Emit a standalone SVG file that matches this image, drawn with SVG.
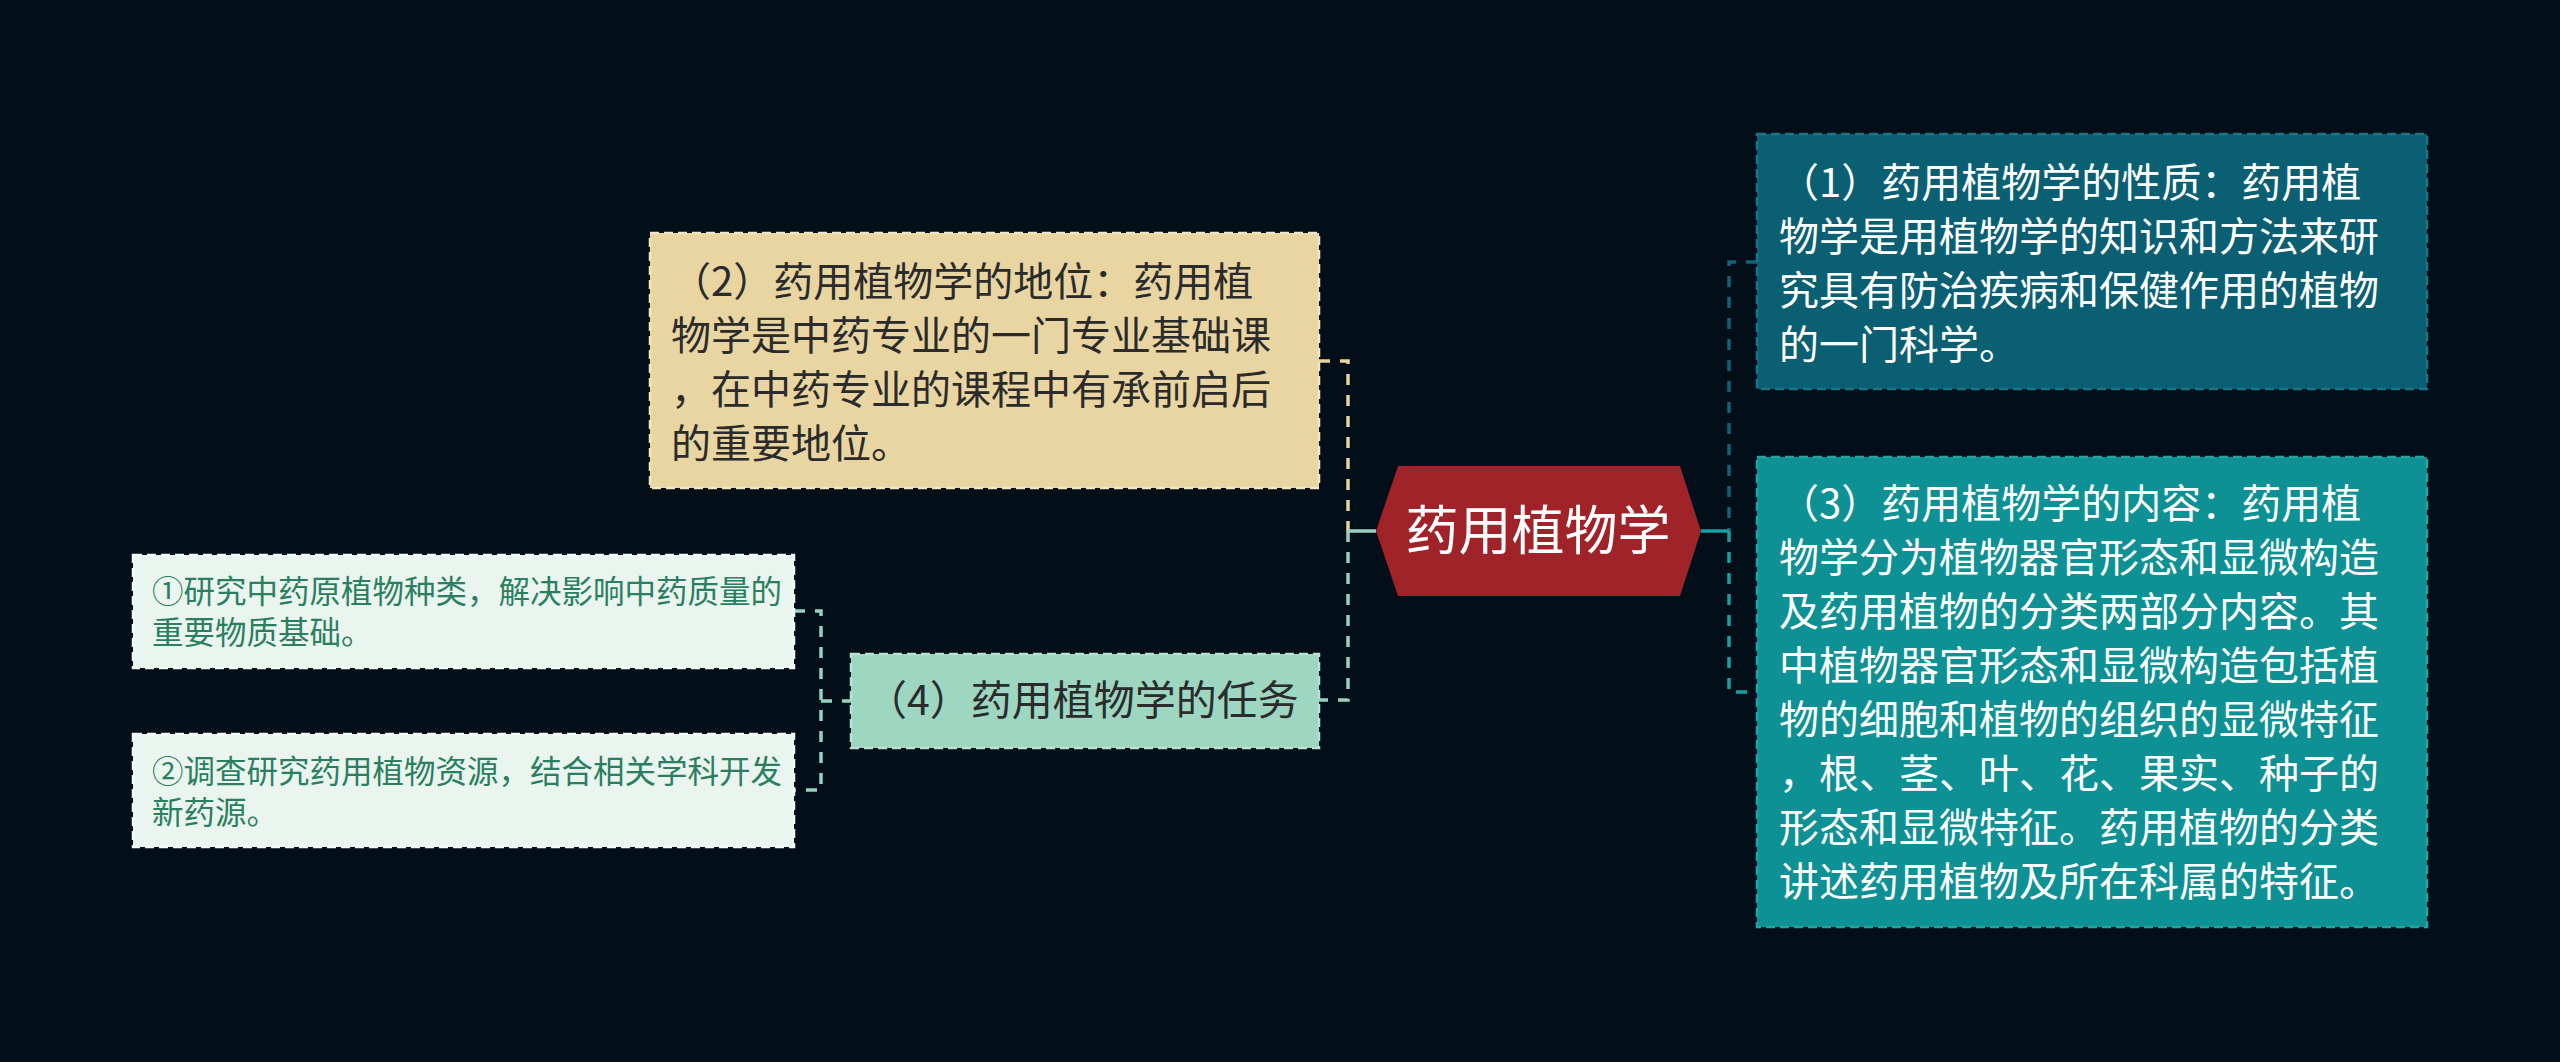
<svg xmlns="http://www.w3.org/2000/svg" width="2560" height="1062" viewBox="0 0 2560 1062">
<style>
text{font-family:"Noto Sans CJK SC","Noto Sans",sans-serif;}
.t40{font-size:40px;}
.t33{font-size:31.5px;}
.box{stroke-width:2.5;stroke-dasharray:9 5;}
.con{fill:none;stroke-width:3.5;stroke-dasharray:11 10;}
.solid{fill:none;stroke-width:3.5;}
</style>
<rect x="0" y="0" width="2560" height="1062" fill="#020F18"/>
<g id="connectors">
  <path class="con" d="M1319 361 H1348 V531" stroke="#E6D49F"/>
  <path class="con" d="M1348 531 V700 H1319" stroke="#94D3BF"/>
  <path class="solid" d="M1348 531 H1376" stroke="#94D3BF"/>
  <path class="con" d="M1757 262 H1729 V531" stroke="#0E6478"/>
  <path class="con" d="M1729 531 V692 H1757" stroke="#17A0A4"/>
  <path class="solid" d="M1701 531 H1729" stroke="#17A0A4"/>
  <path class="con" d="M794 611 H821 V790 H794" stroke="#94D3BF"/>
  <path class="con" d="M821 701 H851" stroke="#94D3BF"/>
</g>
<g id="center">
  <polygon points="1376,531 1398,466 1680,466 1701,531 1680,596 1398,596" fill="#A0232A"/>
  <text x="1538" y="550" font-size="53" fill="#FFFFFF" text-anchor="middle">药用植物学</text>
</g>
<g id="node1">
  <rect class="box" x="1757" y="134" width="670" height="255" fill="#0B5F73" stroke="#1A7488"/>
  <text class="t40" fill="#FFFFFF"><tspan x="1779" y="197">（1）药用植物学的性质：药用植</tspan><tspan x="1779" y="251">物学是用植物学的知识和方法来研</tspan><tspan x="1779" y="305">究具有防治疾病和保健作用的植物</tspan><tspan x="1779" y="359">的一门科学。</tspan></text>
</g>
<g id="node3">
  <rect class="box" x="1757" y="457" width="670" height="470" fill="#0E9194" stroke="#23A3A6"/>
  <text class="t40" fill="#FFFFFF"><tspan x="1779" y="518">（3）药用植物学的内容：药用植</tspan><tspan x="1779" y="572">物学分为植物器官形态和显微构造</tspan><tspan x="1779" y="626">及药用植物的分类两部分内容。其</tspan><tspan x="1779" y="680">中植物器官形态和显微构造包括植</tspan><tspan x="1779" y="734">物的细胞和植物的组织的显微特征</tspan><tspan x="1779" y="788">，根、茎、叶、花、果实、种子的</tspan><tspan x="1779" y="842">形态和显微特征。药用植物的分类</tspan><tspan x="1779" y="896">讲述药用植物及所在科属的特征。</tspan></text>
</g>
<g id="node2">
  <rect class="box" x="650" y="233" width="669" height="255" fill="#E8D5A2" stroke="#F3E6C0"/>
  <text class="t40" fill="#2B2B2B"><tspan x="671" y="296">（2）药用植物学的地位：药用植</tspan><tspan x="671" y="350">物学是中药专业的一门专业基础课</tspan><tspan x="671" y="404">，在中药专业的课程中有承前启后</tspan><tspan x="671" y="458">的重要地位。</tspan></text>
</g>
<g id="node4">
  <rect class="box" x="851" y="654" width="468" height="94" fill="#9DD6C1" stroke="#B8E3D3"/>
  <text fill="#2B2B2B" font-size="41" x="866" y="715">（4）药用植物学的任务</text>
</g>
<g id="node4a">
  <rect class="box" x="133" y="555" width="661" height="113" fill="#EAF5F0" stroke="#F6FBF8"/>
  <text class="t33" fill="#2A7F5F"><tspan x="152" y="603">①研究中药原植物种类，解决影响中药质量的</tspan><tspan x="152" y="644">重要物质基础。</tspan></text>
</g>
<g id="node4b">
  <rect class="box" x="133" y="734" width="661" height="113" fill="#EAF5F0" stroke="#F6FBF8"/>
  <text class="t33" fill="#2A7F5F"><tspan x="152" y="783">②调查研究药用植物资源，结合相关学科开发</tspan><tspan x="152" y="824">新药源。</tspan></text>
</g>
</svg>
